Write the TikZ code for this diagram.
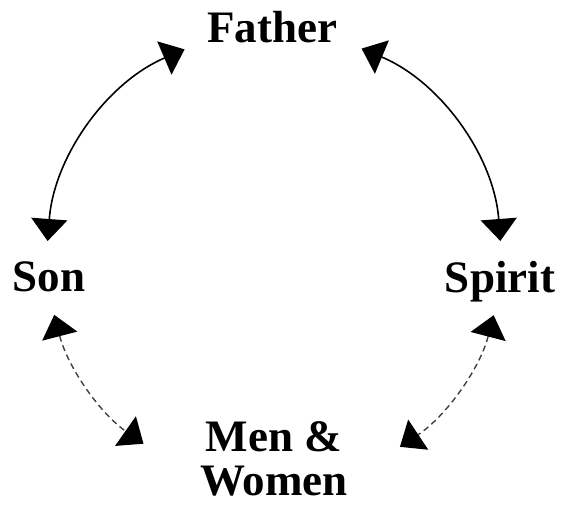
\documentclass[tikz,border=0pt]{standalone}
\usepackage{fontspec}
\setmainfont{Liberation Serif}
\usetikzlibrary{arrows.meta,calc}
\begin{document}
\begin{tikzpicture}[x=1pt,y=-1pt,
  lbl/.style={inner sep=0pt,font=\fontsize{45}{44}\selectfont\bfseries},
  solidlink/.style={line width=1.6pt,{Triangle[length=22pt,width=36pt]}-{Triangle[length=22pt,width=36pt]}},
  dashlink/.style={line width=1.4pt,draw=black!75,dash pattern=on 6pt off 4pt,{Triangle[length=22pt,width=36pt,color=black]}-{Triangle[length=22pt,width=36pt,color=black]}}]
\useasboundingbox[fill=white] (0,0) rectangle (565,504);
\node[lbl,anchor=base] (father) at (272,42) {Father};
\node[lbl,anchor=base] (son) at (49,291) {Son};
\node[lbl,anchor=base] (spirit) at (500,292) {Spirit};
\node[lbl,anchor=center,align=center] (men) at (274,459) {Men \&\\Women};
\coordinate (c) at (274,258);
\coordinate (fl) at ($(c)+(-113.2:227)$);
\coordinate (fr) at ($(c)+(-67.3:227)$);
\coordinate (sl) at ($(c)+(165.5:227)$);
\coordinate (sr) at ($(c)+(14.6:227)$);
\draw[solidlink] (fl) arc[start angle=-113.2, end angle=-175.7, radius=227];
\draw[solidlink] (fr) arc[start angle=-67.3, end angle=-4.3, radius=227];
\draw[dashlink] (sl) arc[start angle=165.5, end angle=125.1, radius=227];
\draw[dashlink] (sr) arc[start angle=14.6, end angle=56.3, radius=227];
\end{tikzpicture}
\end{document}
